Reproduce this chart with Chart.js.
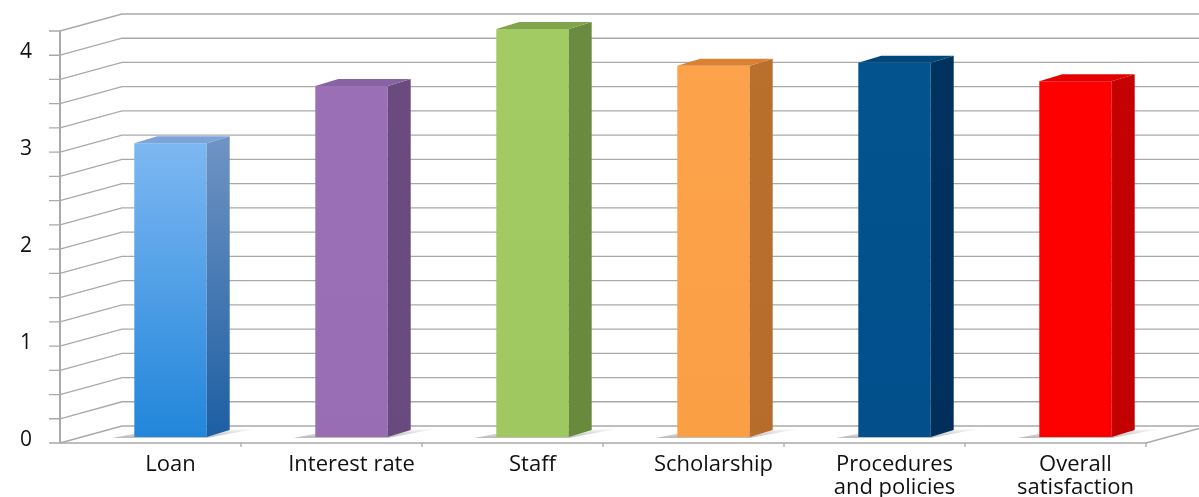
<!DOCTYPE html>
<html>
<head>
<meta charset="utf-8">
<script src="https://cdn.jsdelivr.net/npm/chart.js@4.4.1/dist/chart.umd.min.js"></script>
<style>
  html, body { margin: 0; background: #fff; }
  #wrap { width: 1199px; height: 497px; }
</style>
</head>
<body>
<div id="wrap"><canvas id="myChart"></canvas></div>
<script>
// data
const categories = ["Loan", "Interest rate", "Staff", "Scholarship", ["Procedures", "and policies"], ["Overall", "satisfaction"]];
const scores = [3.03, 3.62, 4.21, 3.83, 3.86, 3.67];
const labelledTicks = [0, 1, 2, 3, 4];

// bar colours: front face gradient top/bottom, side face top/bottom, top face
const frontTop = ["#a3cbfc", "#9c70b6", "#a3cb64", "#fca34b", "#02548f", "#ff0000"];
const frontBottom = ["#2186da", "#996db3", "#a0c860", "#fb9f45", "#024f8c", "#fc0000"];
const sideTop = ["#6e93c3", "#6b4b7f", "#6b8c40", "#b9702d", "#00325f", "#c40000"];
const sideBottom = ["#1d5fa3", "#684a7c", "#688a3d", "#b66c2a", "#002f5c", "#c20000"];
const topColors = ["#7ba4d9", "#8863a4", "#7fa44c", "#da8232", "#01477c", "#e40000"];

// pseudo 3d offsets (front wall, back wall, bar depth)
const D = { fx: -20, fy: 6, bx: 42, by: -11, sx: 23, sy: -7 };
const GRID = "#a9a9a9";

const wall3d = {
  id: "wall3d",
  beforeDatasetsDraw(chart) {
    const ctx = chart.ctx;
    const y = chart.scales.y;
    const L = chart.chartArea.left, R = chart.chartArea.right;
    const W = chart.width;
    ctx.save();
    ctx.strokeStyle = GRID;
    ctx.lineWidth = 1.3;
    y.ticks.forEach((t) => {
      const py = y.getPixelForValue(t.value);
      ctx.beginPath();
      ctx.moveTo(L + D.fx, py + D.fy);
      ctx.lineTo(L + D.bx, py + D.by);
      ctx.lineTo(W, py + D.by);
      ctx.moveTo(L + D.fx - 11, py + D.fy);
      ctx.lineTo(L + D.fx, py + D.fy);
      ctx.stroke();
    });
    // floor
    const p0 = y.getPixelForValue(0);
    const pTop = y.getPixelForValue(y.max);
    ctx.lineWidth = 1.6;
    ctx.beginPath();
    ctx.moveTo(L + D.fx, p0 + D.fy);
    ctx.lineTo(R + D.fx, p0 + D.fy);
    ctx.lineTo(R + D.bx, p0 + D.by);
    ctx.stroke();
    // front vertical axis
    ctx.lineWidth = 2;
    ctx.beginPath();
    ctx.moveTo(L + D.fx, p0 + D.fy);
    ctx.lineTo(L + D.fx, pTop + D.fy);
    ctx.stroke();
    // category ticks
    ctx.lineWidth = 1.3;
    const cw = (R - L) / categories.length;
    for (let k = 1; k <= categories.length; k++) {
      const tx = L + D.fx + k * cw;
      ctx.beginPath();
      ctx.moveTo(tx, p0 + D.fy);
      ctx.lineTo(tx, p0 + D.fy + 4);
      ctx.stroke();
    }
    // floor shadows
    chart.getDatasetMeta(0).data.forEach((el) => {
      const { x: bx, base, width } = el.getProps(["x", "base", "width"], true);
      const left = bx - width / 2, right = bx + width / 2;
      const g = ctx.createLinearGradient(0, base + D.sy, 0, base + 2);
      g.addColorStop(0, "rgba(0,0,0,0.05)");
      g.addColorStop(1, "rgba(0,0,0,0.3)");
      ctx.fillStyle = g;
      ctx.beginPath();
      ctx.moveTo(left - 22, base + 1);
      ctx.lineTo(left + 4, base - 4);
      ctx.lineTo(right + D.sx + 24, base + D.sy - 1);
      ctx.lineTo(right, base + 1);
      ctx.closePath();
      ctx.fill();
    });
    ctx.restore();
  },
  afterDatasetsDraw(chart) {
    const ctx = chart.ctx;
    ctx.save();
    chart.getDatasetMeta(0).data.forEach((el, i) => {
      const { x: bx, y: by, base, width } = el.getProps(["x", "y", "base", "width"], true);
      const left = bx - width / 2, right = bx + width / 2;
      const g = ctx.createLinearGradient(0, by, 0, base);
      g.addColorStop(0, sideTop[i]);
      g.addColorStop(1, sideBottom[i]);
      ctx.fillStyle = g;
      ctx.beginPath();
      ctx.moveTo(right, by);
      ctx.lineTo(right + D.sx, by + D.sy);
      ctx.lineTo(right + D.sx, base + D.sy);
      ctx.lineTo(right, base);
      ctx.closePath();
      ctx.fill();
      ctx.fillStyle = topColors[i];
      ctx.beginPath();
      ctx.moveTo(left, by);
      ctx.lineTo(left + D.sx, by + D.sy);
      ctx.lineTo(right + D.sx, by + D.sy);
      ctx.lineTo(right, by);
      ctx.closePath();
      ctx.fill();
    });
    ctx.restore();
  },
};

const myCt = document.getElementById("myChart");
const myChart = new Chart(myCt, {
  type: "bar",
  data: {
    labels: categories,
    datasets: [
      {
        label: "score",
        data: scores,
        backgroundColor: (c) => {
          const area = c.chart.chartArea;
          if (!area) return frontBottom[c.dataIndex];
          const g = c.chart.ctx.createLinearGradient(0, area.top, 0, area.bottom);
          g.addColorStop(0, frontTop[c.dataIndex]);
          g.addColorStop(1, frontBottom[c.dataIndex]);
          return g;
        },
        borderWidth: 0,
        barPercentage: 0.4,
        categoryPercentage: 1,
      },
    ],
  },
  options: {
    responsive: true,
    maintainAspectRatio: false,
    animation: false,
    layout: { padding: { top: 25, right: 33, left: 0, bottom: 0 } },
    plugins: {
      legend: { display: false },
      tooltip: { enabled: false },
    },
    scales: {
      x: {
        grid: { display: false, drawTicks: false },
        border: { display: false },
        ticks: {
          color: "#111",
          padding: 16,
          maxRotation: 0,
          autoSkip: false,
          font: { family: "'Open Sans'", size: 22, lineHeight: 1.05 },
        },
        afterFit: (s) => { s.height = 60; },
      },
      y: {
        min: 0,
        max: 4.25,
        grid: { display: false, drawTicks: false },
        border: { display: false },
        ticks: {
          stepSize: 0.25,
          autoSkip: false,
          color: "#111",
          padding: 48,
          labelOffset: 3,
          font: { family: "'Open Sans'", size: 21 },
          callback: (v) => (labelledTicks.includes(v) ? v : ""),
        },
        afterFit: (s) => {
          s.width = 80;
          s.paddingTop = 0;
          s.paddingBottom = 0;
        },
      },
    },
  },
  plugins: [wall3d],
});
</script>
</body>
</html>
